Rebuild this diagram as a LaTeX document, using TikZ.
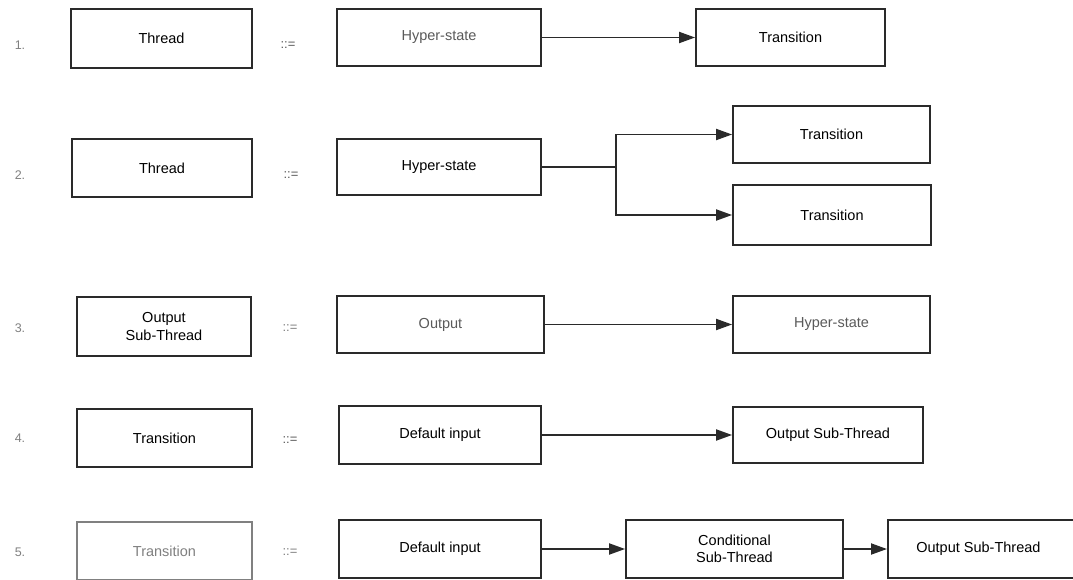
\documentclass[tikz,border=0pt]{standalone}
\usepackage{fontspec}
\setmainfont{Liberation Sans}
\usetikzlibrary{arrows.meta}
\definecolor{ink}{HTML}{2A2A2A}
\definecolor{faded}{HTML}{5A5A5A}
\definecolor{pale}{HTML}{808080}
\tikzset{
  box/.style={draw=ink, line width=1.8pt, fill=white, inner sep=0pt,
    align=center, font=\fontsize{14.5}{17.5}\selectfont, text=black},
  num/.style={font=\fontsize{12.5}{15}\selectfont, text=pale},
  defn/.style={font=\fontsize{13}{15}\selectfont, text=faded},
  link/.style={draw=ink, line width=1.9pt, -{Triangle[length=16pt,width=11pt]}},
  plain/.style={draw=ink, line width=1.9pt}
}
\begin{document}
\begin{tikzpicture}[x=1pt,y=-1pt]
\useasboundingbox (0,0) rectangle (1073,580);

% 1. Thread ::= Hyper-state -> Transition
\node[num] (n1) at (20,45) {1.};
\node[box, minimum width=181, minimum height=59] (t1) at (161.5,38.5) {Thread};
\node[defn] (d1) at (288,45) {::=};
\node[box, minimum width=204, minimum height=57, text=faded] (h1) at (439,37.5) {Hyper-state};
\node[box, minimum width=189, minimum height=57] (r1) at (790.5,37.5) {Transition};
\draw[link] (h1.east) -- (r1.west);

% 2. Thread ::= Hyper-state branching to two Transitions
\node[num] (n2) at (20,175) {2.};
\node[box, minimum width=180, minimum height=58] (t2) at (162,168) {Thread};
\node[defn] (d2) at (291,175) {::=};
\node[box, minimum width=204, minimum height=56] (h2) at (439,167) {Hyper-state};
\node[box, minimum width=197, minimum height=57] (r2a) at (831.5,134.5) {Transition};
\node[box, minimum width=198, minimum height=60] (r2b) at (832,215) {Transition};
\coordinate (fork) at (616,167);
\draw[plain] (h2.east) -- (fork);
\draw[link] (fork) |- (r2a.west);
\draw[link] (fork) |- (r2b.west);

% 3. Output Sub-Thread ::= Output -> Hyper-state
\node[num] (n3) at (20,328) {3.};
\node[box, minimum width=174, minimum height=59] (s3) at (164,326.5) {Output\\Sub-Thread};
\node[defn, text=pale] (d3) at (290,328) {::=};
\node[box, minimum width=207, minimum height=57, text=faded] (o3) at (440.5,324.5) {Output};
\node[box, minimum width=197, minimum height=57, text=faded] (h3) at (831.5,324.5) {Hyper-state};
\draw[link] (o3.east) -- (h3.west);

% 4. Transition ::= Default input -> Output Sub-Thread
\node[num] (n4) at (20,438) {4.};
\node[box, minimum width=175, minimum height=58] (r4) at (164.5,438) {Transition};
\node[defn] (d4) at (290,440) {::=};
\node[box, minimum width=202, minimum height=58] (i4) at (440,435) {Default input};
\node[box, minimum width=190, minimum height=56] (s4) at (828,435) {Output Sub-Thread};
\draw[link] (i4.east) -- (s4.west);

% 5. Transition ::= Default input -> Conditional Sub-Thread -> Output Sub-Thread
\node[num] (n5) at (20,552) {5.};
\node[box, draw=pale, minimum width=175, minimum height=58, text=pale] (r5) at (164.5,551) {Transition};
\node[defn, text=pale] (d5) at (290,552) {::=};
\node[box, minimum width=202, minimum height=58] (i5) at (440,549) {Default input};
\node[box, minimum width=217, minimum height=58] (c5) at (734.5,549) {Conditional\\Sub-Thread};
\node[box, minimum width=193, minimum height=58, anchor=west] (s5) at (887,549) {\hspace*{-12pt}Output Sub-Thread};
\draw[link] (i5.east) -- (c5.west);
\draw[link] (c5.east) -- (s5.west);
\end{tikzpicture}
\end{document}
